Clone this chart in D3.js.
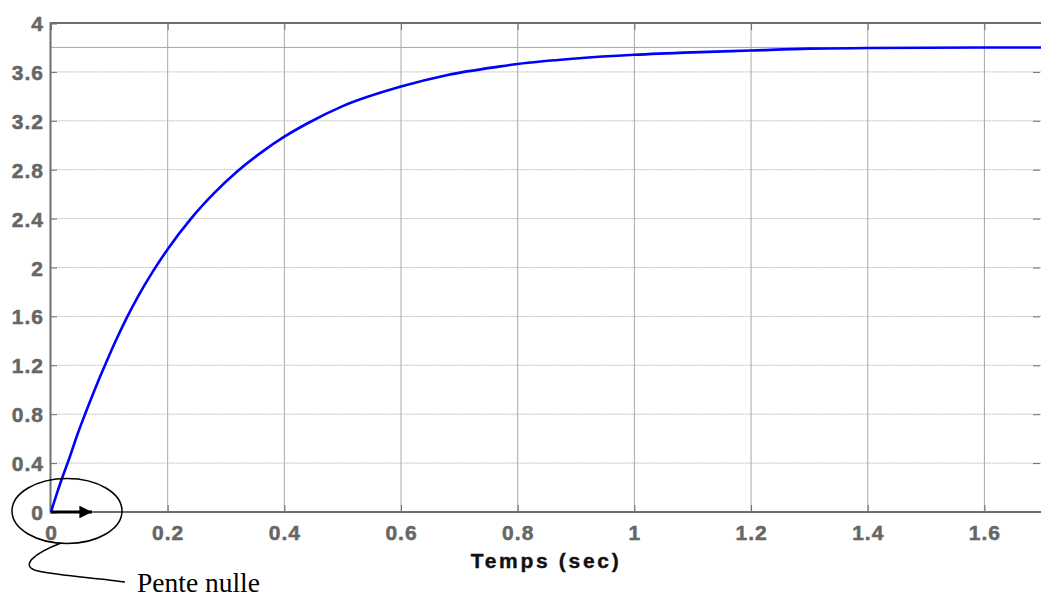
<!DOCTYPE html>
<html><head><meta charset="utf-8">
<script src="https://cdn.jsdelivr.net/npm/d3@7"></script>
<style>body{margin:0;background:#fff}svg{display:block}</style>
</head><body>
<svg id="c" width="1041" height="597"></svg>
<script>
const timeValues = [0, 0.01, 0.02, 0.03, 0.045, 0.06, 0.08, 0.0925, 0.11, 0.13, 0.15, 0.175, 0.2, 0.24, 0.28, 0.32, 0.36, 0.4, 0.44, 0.5, 0.6, 0.68, 0.77, 0.8, 0.9, 1.0, 1.1, 1.2, 1.3, 1.4, 1.6, 1.7];
const responseValues = [0, 0.15, 0.29, 0.42, 0.63, 0.82, 1.06, 1.20, 1.39, 1.59, 1.77, 1.97, 2.15, 2.40, 2.61, 2.79, 2.94, 3.07, 3.18, 3.32, 3.48, 3.575, 3.645, 3.665, 3.71, 3.74, 3.76, 3.775, 3.79, 3.795, 3.80, 3.80];
const xTicks = [0, 0.2, 0.4, 0.6, 0.8, 1, 1.2, 1.4, 1.6];
const yTicks = [0, 0.4, 0.8, 1.2, 1.6, 2, 2.4, 2.8, 3.2, 3.6, 4];
const refLevel = 3.8;
const xLabel = "Temps (sec)";
const annotation = "Pente nulle";

const svg = d3.select("#c");
const L = 50, R = 1041, T = 23, B = 512;
const x = d3.scaleLinear().domain([0, 1.697]).range([51, R]);
const y = d3.scaleLinear().domain([0, 4]).range([B, T]);

// grid
svg.append("g").selectAll("line").data(yTicks).join("line")
  .attr("x1", L).attr("x2", R).attr("y1", d => y(d)).attr("y2", d => y(d))
  .attr("stroke", "#bdbdbd").attr("stroke-width", 1).attr("stroke-dasharray", "1,0.5");
svg.append("g").selectAll("line").data(xTicks.slice(1)).join("line")
  .attr("x1", d => x(d)).attr("x2", d => x(d)).attr("y1", T).attr("y2", B)
  .attr("stroke", "#a8a8a8").attr("stroke-width", 1);
svg.append("line").attr("x1", L).attr("x2", R).attr("y1", y(refLevel)).attr("y2", y(refLevel))
  .attr("stroke", "#a8a8a8").attr("stroke-width", 1);

// axes
const axL = svg.append("g").attr("transform", `translate(${L},0)`)
  .call(d3.axisLeft(y).tickValues(yTicks).tickSize(-7).tickPadding(6).tickFormat(d3.format("~g")));
const axB = svg.append("g").attr("transform", `translate(0,${B})`)
  .call(d3.axisBottom(x).tickValues(xTicks).tickSize(-7).tickPadding(10).tickFormat(d3.format("~g")));
const axT = svg.append("g").attr("transform", `translate(0,${T})`)
  .call(d3.axisTop(x).tickValues(xTicks).tickSize(-7).tickFormat(""));
const axR = svg.append("g").attr("transform", `translate(${R-1},0)`)
  .call(d3.axisRight(y).tickValues(yTicks).tickSize(-7).tickFormat(""));
[axL, axB, axT, axR].forEach(a => {
  a.select(".domain").attr("stroke", "#6e6e6e").attr("stroke-width", 2);
  a.selectAll(".tick line").attr("stroke", "#6e6e6e").attr("stroke-width", 1);
  a.selectAll("text").attr("fill", "#666").attr("stroke", "#666").attr("stroke-width", 0.5)
    .attr("font-family", "Liberation Sans, Arial, sans-serif")
    .attr("font-weight", "bold").attr("font-size", 21).style("letter-spacing", "1px");
});
axR.select(".domain").remove();
axB.select(".domain").attr("d", `M${L},0H${R}`);
axT.select(".domain").attr("d", `M${L},0H${R}`);
axL.selectAll("text").attr("dy", "0.36em");
axB.selectAll("text").attr("dy", "0.85em");

// curve
const pts = timeValues.map((t, i) => [t, responseValues[i]]);
svg.append("path").datum(pts)
  .attr("d", d3.line().x(d => x(d[0])).y(d => y(d[1])).curve(d3.curveMonotoneX))
  .attr("fill", "none").attr("stroke", "#0000ff").attr("stroke-width", 2.6);

// x label
svg.append("text").attr("x", 546).attr("y", 568).attr("text-anchor", "middle")
  .attr("font-family", "Liberation Sans, Arial, sans-serif").attr("font-weight", "bold")
  .attr("font-size", 21).style("letter-spacing", "2.7px").attr("fill", "#111")
  .attr("stroke", "#111").attr("stroke-width", 0.4).text(xLabel);

// annotation
const ax0 = x(0), ay0 = y(0);
svg.append("defs").append("marker").attr("id", "ah").attr("viewBox", "0 0 10 10")
  .attr("refX", 10).attr("refY", 5).attr("markerWidth", 5.5).attr("markerHeight", 4.2)
  .attr("markerUnits", "strokeWidth").attr("orient", "auto")
  .append("path").attr("d", "M0,0L10,5L0,10Z").attr("fill", "#000");
svg.append("line").attr("x1", ax0).attr("y1", ay0).attr("x2", ax0 + 41).attr("y2", ay0)
  .attr("stroke", "#000").attr("stroke-width", 3).attr("marker-end", "url(#ah)");
svg.append("ellipse").attr("cx", ax0 + 16).attr("cy", ay0 - 1).attr("rx", 55).attr("ry", 32.5)
  .attr("fill", "none").attr("stroke", "#000").attr("stroke-width", 1.5);
svg.append("path").attr("d", "M61,543 C 35,553 18,566 38,571 C 60,576 100,578 125,582")
  .attr("fill", "none").attr("stroke", "#000").attr("stroke-width", 1.5);
svg.append("text").attr("x", 137).attr("y", 592)
  .attr("font-family", "Liberation Serif, Times New Roman, serif").attr("font-size", 27.5)
  .attr("fill", "#000").text(annotation);
</script>
</body></html>
